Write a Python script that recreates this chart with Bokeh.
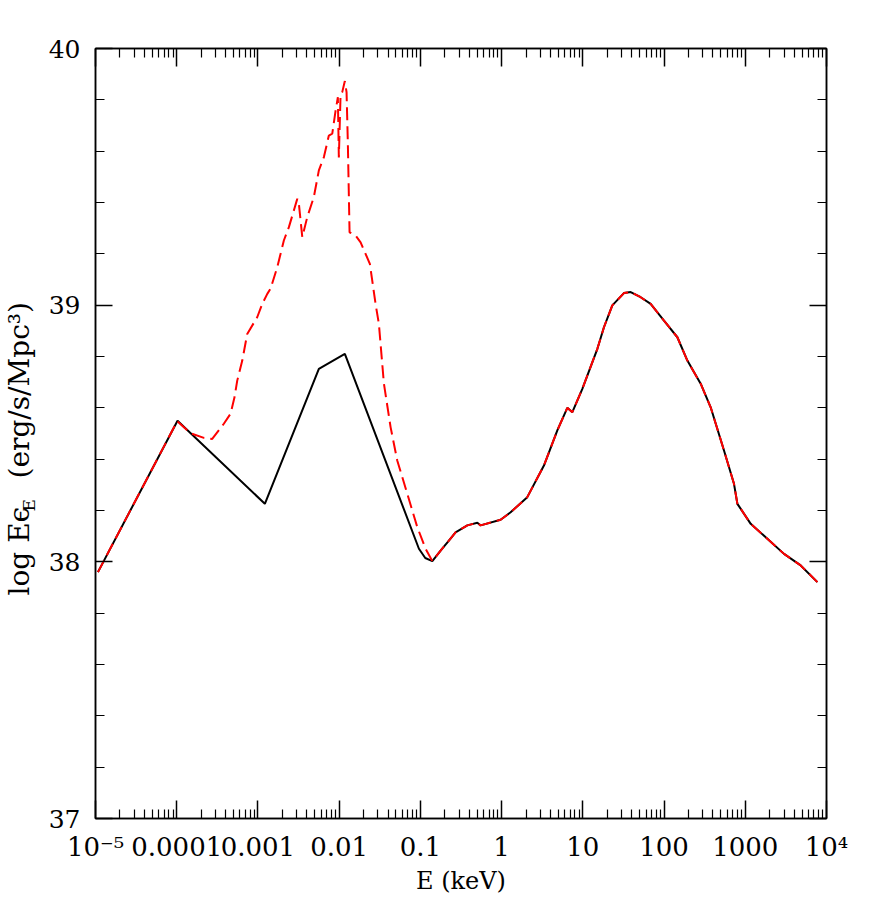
import math
from bokeh.plotting import figure
from bokeh.layouts import row
from bokeh.models import FixedTicker, CustomJSTickFormatter, LogAxis, LinearAxis
from bokeh.core.properties import value
from bokeh.embed import file_html
from bokeh.resources import INLINE

# ---- data (log10 E [keV], log E*eps_E [erg/s/Mpc^3]) ----
shared_logE = [-0.853, -0.751, -0.649, -0.567, -0.422, -0.299, -0.259, -0.012, 0.111,
               0.316, 0.521, 0.686, 0.809, 0.871, 0.994, 1.179, 1.260, 1.363, 1.506,
               1.589, 1.712, 1.835, 1.999, 2.164, 2.287, 2.451, 2.574, 2.738, 2.861,
               2.903, 3.067, 3.272, 3.477, 3.682, 3.888]
shared_val = [38.003, 38.044, 38.083, 38.115, 38.142, 38.152, 38.142, 38.164, 38.193,
              38.252, 38.375, 38.512, 38.600, 38.583, 38.674, 38.830, 38.914, 38.999, 39.047,
              39.051, 39.031, 39.005, 38.940, 38.875, 38.784, 38.694, 38.602, 38.434, 38.304,
              38.226, 38.148, 38.090, 38.031, 37.986, 37.921]

black_low_logE = [-4.97, -3.99, -2.915, -2.250, -1.930, -1.018, -0.94]
black_low_val = [37.96, 38.55, 38.226, 38.752, 38.810, 38.051, 38.015]

red_low_logE = [-4.97, -3.994, -3.830, -3.666, -3.563, -3.420, -3.337, -3.288, -3.255,
                -3.193, -3.132, -3.009, -2.947, -2.885, -2.845, -2.762, -2.681, -2.619,
                -2.558, -2.516, -2.496, -2.454, -2.393, -2.312, -2.250, -2.188, -2.127,
                -2.085, -2.044, -2.016, -2.004, -1.983, -1.962, -1.930, -1.909, -1.893,
                -1.872, -1.798, -1.736, -1.675, -1.622, -1.552, -1.511, -1.449, -1.367,
                -1.285, -1.161, -1.038, -0.936]
red_low_val = [37.96, 38.548, 38.501, 38.483, 38.479, 38.538, 38.577, 38.642, 38.706,
               38.784, 38.888, 38.953, 39.005, 39.044, 39.064, 39.148, 39.252, 39.304,
               39.369, 39.414, 39.395, 39.265, 39.343, 39.421, 39.525, 39.577, 39.661,
               39.668, 39.758, 39.810, 39.575, 39.817, 39.830, 39.873, 39.830, 39.629,
               39.284, 39.271, 39.245, 39.200, 39.161, 39.005, 38.927, 38.694, 38.525,
               38.395, 38.265, 38.135, 38.051]

x_tick_values = [1e-5, 1e-4, 1e-3, 1e-2, 1e-1, 1, 10, 100, 1000, 1e4]
x_tick_labels = ["10\u207b\u2075", "0.0001", "0.001", "0.01", "0.1", "1", "10", "100",
                 "1000", "10\u2074"]
y_tick_values = [37, 38, 39, 40]
y_minor_values = [37.2, 37.4, 37.6, 37.8, 38.2, 38.4, 38.6, 38.8, 39.2, 39.4, 39.6, 39.8]
y_title_parts = ["log E\u03f5", "E", "(erg/s/Mpc\u00b3)"]
x_title = "E (keV)"

black_E = [10 ** v for v in black_low_logE + shared_logE]
black_y = black_low_val + shared_val
red_E = [10 ** v for v in red_low_logE + shared_logE]
red_y = red_low_val + shared_val

FONT = "DejaVu Serif"
H = 903
LW = 40
TOP, BOTTOM = 48, 85
FRAME_H = H - TOP - BOTTOM  # 770

p = figure(width=818, height=H, x_axis_type="log", x_range=(1e-5, 1e4), y_range=(37, 40),
           output_backend="svg", toolbar_location=None,
           min_border_left=55, min_border_top=TOP, min_border_right=32, min_border_bottom=BOTTOM)
p.grid.visible = False
p.outline_line_color = "black"
p.outline_line_width = 1.5

x_minor = [m * 10 ** k for k in range(-5, 4) for m in range(2, 10)]
xticker = FixedTicker(ticks=x_tick_values, minor_ticks=x_minor)
yticker = FixedTicker(ticks=y_tick_values, minor_ticks=y_minor_values)
xfmt = CustomJSTickFormatter(args=dict(labels=x_tick_labels),
                             code="const e = Math.round(Math.log10(tick)); return labels[e + 5];")
blank = CustomJSTickFormatter(code="return '';")


def style(ax, major_len, minor_len, show_labels=True):
    ax.major_tick_in = major_len
    ax.major_tick_out = 0
    ax.minor_tick_in = minor_len
    ax.minor_tick_out = 0
    ax.major_tick_line_color = "black"
    ax.minor_tick_line_color = "black"
    ax.major_tick_line_width = 1.5
    ax.minor_tick_line_width = 1.2
    ax.axis_line_color = "black"
    ax.axis_line_width = 1.5
    ax.major_label_text_font = FONT
    ax.major_label_text_color = "black"
    if not show_labels:
        ax.major_label_text_font_size = "0px"
        ax.major_label_standoff = 0


xa = p.xaxis[0]
xa.ticker = xticker
xa.formatter = xfmt
style(xa, 18, 9)
xa.major_label_text_font_size = "26px"
xa.major_label_standoff = 13
xa.axis_label = x_title
xa.axis_label_text_font = FONT
xa.axis_label_text_font_size = "24px"
xa.axis_label_text_font_style = "normal"
xa.axis_label_text_color = "black"
xa.axis_label_standoff = 2

ya = p.yaxis[0]
ya.ticker = yticker
style(ya, 17, 9)
ya.major_label_text_font_size = "25px"
ya.major_label_standoff = 15
ya.major_label_orientation = "horizontal"

top = LogAxis(ticker=xticker, formatter=blank)
style(top, 18, 9, show_labels=False)
p.add_layout(top, "above")
right = LinearAxis(ticker=yticker, formatter=blank)
style(right, 17, 9, show_labels=False)
p.add_layout(right, "right")

p.line(black_E, black_y, line_color="black", line_width=2)
p.line(red_E, red_y, line_color="red", line_width=2, line_dash="13 6")

# narrow panel on the left holding the rotated y-axis title (with subscript E);
# its frame is aligned with the main frame, so 1 unit = 1 px measured up from the frame bottom
q = figure(width=LW, height=H, x_range=(0, LW), y_range=(0, FRAME_H), output_backend="svg",
           toolbar_location=None, min_border=0, min_border_top=TOP, min_border_bottom=BOTTOM,
           x_axis_type=None, y_axis_type=None)
q.grid.visible = False
q.outline_line_color = None
q.text(x=[19], y=[223], text=[y_title_parts[0]], angle=math.pi / 2, text_align="left",
       text_baseline="middle", text_font=value(FONT), text_font_size="28px", text_color="black")
q.text(x=[28], y=[307], text=[y_title_parts[1]], angle=math.pi / 2, text_align="left",
       text_baseline="middle", text_font=value(FONT), text_font_size="17px", text_color="black")
q.text(x=[19], y=[340], text=[y_title_parts[2]], angle=math.pi / 2, text_align="left",
       text_baseline="middle", text_font=value(FONT), text_font_size="28px", text_color="black")

layout = row(q, p, spacing=0)
open("out.html", "w").write(file_html(layout, INLINE))
